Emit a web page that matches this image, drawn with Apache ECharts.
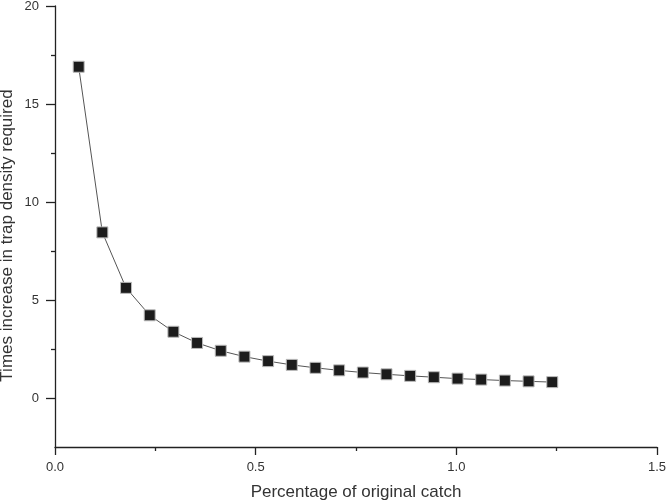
<!DOCTYPE html>
<html><head><meta charset="utf-8">
<script src="https://cdn.jsdelivr.net/npm/echarts@6/dist/echarts.min.js"></script>
<style>html,body{margin:0;padding:0;background:#fff}#c{width:666px;height:501px}</style>
</head><body><div id="c"></div>
<script>
const xValues = [0.059, 0.118, 0.177, 0.236, 0.295, 0.354, 0.413, 0.472, 0.531, 0.590, 0.649, 0.708, 0.767, 0.826, 0.885, 0.944, 1.003, 1.062, 1.121, 1.180, 1.239];
const yValues = [16.9, 8.45, 5.62, 4.22, 3.38, 2.81, 2.41, 2.11, 1.88, 1.69, 1.54, 1.41, 1.30, 1.21, 1.13, 1.06, 0.99, 0.94, 0.89, 0.85, 0.81];
const xMajorTicks = [0, 0.5, 1.0, 1.5];
const xMinorTicks = [0.25, 0.75, 1.25];
const yMajorTicks = [0, 5, 10, 15, 20];
const yMinorTicks = [2.5, 7.5, 12.5, 17.5];
const xTitle = 'Percentage of original catch';
const yTitle = 'Times increase in trap density required';

const font = 'Liberation Sans, Arial, sans-serif';
const axisColor = '#222';
const chart = echarts.init(document.getElementById('c'), null, {renderer: 'canvas'});
const baseX = {type: 'value', min: 0, max: 1.5, splitLine: {show: false}};
const baseY = {type: 'value', min: -2.5, max: 20, splitLine: {show: false}};
chart.setOption({
  animation: false,
  grid: {left: 55, right: 9, top: 6, bottom: 54, containLabel: false, outerBoundsMode: 'none'},
  xAxis: [
    Object.assign({}, baseX, {
      position: 'bottom',
      name: xTitle, nameLocation: 'middle', nameGap: 37, nameMoveOverlap: false,
      nameTextStyle: {fontFamily: font, fontSize: 17, color: '#333'},
      axisLine: {show: true, onZero: false, lineStyle: {color: axisColor, width: 1.3}},
      axisTick: {show: true, customValues: xMajorTicks, length: 8, inside: false, lineStyle: {color: axisColor, width: 1.3}},
      axisLabel: {customValues: xMajorTicks, fontFamily: font, fontSize: 13, color: '#333', margin: 14,
        formatter: v => v.toFixed(1)}
    }),
    Object.assign({}, baseX, {
      position: 'bottom',
      axisLine: {show: false, onZero: false},
      axisTick: {show: true, customValues: xMinorTicks, length: 4, lineStyle: {color: axisColor, width: 1.3}},
      axisLabel: {show: false}
    })
  ],
  yAxis: [
    Object.assign({}, baseY, {
      position: 'left',
      name: yTitle, nameLocation: 'middle', nameGap: 39, nameRotate: 90, nameMoveOverlap: false,
      nameTextStyle: {fontFamily: font, fontSize: 17, color: '#333', padding: [0, 18, 0, 0]},
      axisLine: {show: true, onZero: false, lineStyle: {color: axisColor, width: 1.3}},
      axisTick: {show: true, customValues: yMajorTicks, length: 9, lineStyle: {color: axisColor, width: 1.3}},
      axisLabel: {customValues: yMajorTicks, fontFamily: font, fontSize: 13, color: '#333', margin: 16}
    }),
    Object.assign({}, baseY, {
      position: 'left', offset: 0,
      axisLine: {show: false, onZero: false},
      axisTick: {show: true, customValues: yMinorTicks, length: 4, lineStyle: {color: axisColor, width: 1.3}},
      axisLabel: {show: false}
    })
  ],
  series: [{
    type: 'line',
    xAxisIndex: 0, yAxisIndex: 0,
    data: xValues.map((x, i) => [x, yValues[i]]),
    symbol: 'rect', symbolSize: 11,
    lineStyle: {color: '#555', width: 1},
    itemStyle: {color: '#1c1c1c', borderColor: '#bbb', borderWidth: 1},
    z: 3
  }]
});
</script></body></html>
